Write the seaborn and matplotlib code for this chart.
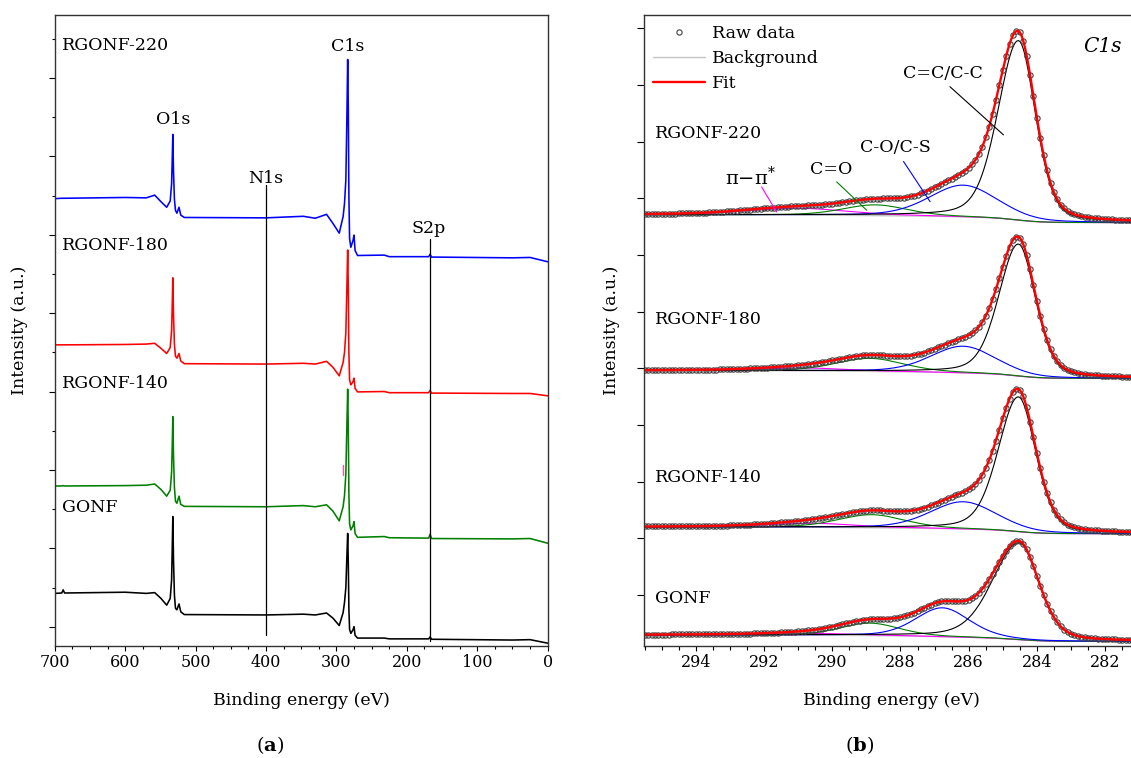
import numpy as np
import matplotlib
matplotlib.use("Agg")
import matplotlib.pyplot as plt
from matplotlib.lines import Line2D
from matplotlib.ticker import MultipleLocator, NullFormatter
import seaborn as sns

# ---------------- survey spectra (a) ----------------
survey_energy = [700, 690, 688, 686, 600, 570, 558, 549, 541, 536, 534, 533, 532.3,
                 531.3, 530, 528.5, 526.5, 523.5, 521, 516, 400, 347, 330, 314, 305,
                 296, 290.5, 288.5, 286.6, 285.2, 284.0, 283.1, 282.3, 281.3, 279.5, 276.5,
                 275, 273.5, 270, 232, 225, 169, 167, 165, 50, 25, 0]
survey_rgonf220 = [10.92, 10.93, 10.93, 10.93, 10.95, 10.94, 11.01, 10.84, 10.70, 10.86,
                   11.30, 12.00, 12.56, 11.60, 10.90, 10.62, 10.55, 10.70, 10.50, 10.44,
                   10.43, 10.47, 10.42, 10.52, 10.29, 10.04, 10.46, 10.80, 11.40, 12.90,
                   14.47, 13.20, 11.00, 9.90, 9.68, 9.85, 9.99, 9.60, 9.47, 9.48, 9.44,
                   9.44, 9.50, 9.43, 9.41, 9.42, 9.31]
survey_rgonf180 = [7.19, 7.19, 7.19, 7.19, 7.20, 7.21, 7.23, 7.10, 6.97, 7.12, 7.55, 8.30,
                   8.90, 7.95, 7.20, 6.90, 6.85, 6.97, 6.78, 6.71, 6.70, 6.72, 6.70, 6.77,
                   6.62, 6.40, 6.74, 7.00, 7.50, 8.60, 9.61, 8.60, 7.00, 6.30, 6.17, 6.25,
                   6.34, 6.08, 5.99, 6.00, 5.97, 5.97, 6.03, 5.96, 5.95, 5.95, 5.89]
survey_rgonf140 = [3.59, 3.59, 3.60, 3.59, 3.60, 3.61, 3.64, 3.50, 3.33, 3.48, 3.95, 4.70,
                   5.36, 4.35, 3.55, 3.20, 3.15, 3.33, 3.12, 3.07, 3.06, 3.09, 3.06, 3.11,
                   2.95, 2.70, 3.06, 3.35, 3.90, 5.10, 6.06, 5.00, 3.40, 2.62, 2.47, 2.57,
                   2.68, 2.38, 2.28, 2.30, 2.27, 2.26, 2.36, 2.25, 2.24, 2.25, 2.13]
survey_gonf = [0.85, 0.86, 0.94, 0.86, 0.88, 0.85, 0.87, 0.72, 0.55, 0.72, 1.20, 2.10,
               2.81, 1.70, 0.80, 0.47, 0.43, 0.58, 0.38, 0.31, 0.30, 0.32, 0.30, 0.35,
               0.22, 0.03, 0.36, 0.62, 1.00, 1.75, 2.38, 1.60, 0.45, -0.07, -0.17, -0.08,
               0.00, -0.22, -0.29, -0.29, -0.31, -0.31, -0.26, -0.32, -0.34, -0.33, -0.42]
survey_names = ["RGONF-220", "RGONF-180", "RGONF-140", "GONF"]
survey_colors = ["#0000ff", "#ff0000", "#008000", "#000000"]

# ---------------- C1s peak fitting parameters (b) ----------------
c1s_samples = ["RGONF-220", "RGONF-180", "RGONF-140", "GONF"]
cc_center = [284.54, 284.54, 284.54, 284.52]      # C=C/C-C
cc_height = [3.17, 2.33, 2.38, 1.71]
cc_hwhm_high = [0.71, 0.68, 0.70, 0.92]
cc_hwhm_low = [0.59, 0.59, 0.60, 0.68]
co_center = [286.16, 286.16, 286.16, 286.77]      # C-O/C-S
co_height = [0.56, 0.47, 0.48, 0.51]
co_fwhm = [2.35, 2.25, 2.30, 1.86]
cdo_center = [288.74, 288.89, 288.84, 288.89]     # C=O
cdo_height = [0.19, 0.23, 0.23, 0.22]
cdo_fwhm = [2.25, 2.35, 2.30, 2.05]
pi_center = [291.0, 290.8, 290.6, 290.5]          # pi-pi*
pi_height = [0.12, 0.05, 0.07, 0.03]
pi_fwhm = [3.5, 3.0, 3.0, 3.0]
bg_high = [6.71, 3.96, 1.20, -0.706]              # Shirley background end levels
bg_low = [6.57, 3.82, 1.08, -0.82]

# ---------------- style ----------------
sns.set_theme(style="ticks")
plt.rcParams["font.family"] = ["DejaVu Serif"]
plt.rcParams["mathtext.fontset"] = "dejavuserif"
plt.rcParams["text.color"] = "black"
plt.rcParams["axes.labelcolor"] = "black"
plt.rcParams["axes.edgecolor"] = "#333333"
plt.rcParams["axes.linewidth"] = 1.0
plt.rcParams["xtick.color"] = "black"
plt.rcParams["ytick.color"] = "black"
plt.rcParams["xtick.labelcolor"] = "black"
FS = 12.5
TFS = 11.5

fig = plt.figure(figsize=(11.31, 7.58), dpi=100)
W, H = 1131.0, 758.0
axL = fig.add_axes([54.7 / W, 112 / H, 493 / W, 631 / H])
axR = fig.add_axes([644 / W, 112 / H, 487 / W, 631 / H])

# ---------------- panel (a) ----------------
for vals, col in zip([survey_gonf, survey_rgonf140, survey_rgonf180, survey_rgonf220],
                     survey_colors[::-1]):
    sns.lineplot(x=survey_energy, y=vals, ax=axL, color=col, lw=1.15, sort=False,
                 estimator=None, errorbar=None, legend=False)

axL.set_xlim(700, 0)
axL.set_ylim(-0.492, 15.605)
axL.xaxis.set_major_locator(MultipleLocator(100))
axL.xaxis.set_minor_locator(MultipleLocator(25))
axL.set_yticks(np.arange(0, 15, 2))
axL.set_yticks(np.arange(1, 16, 2), minor=True)
axL.yaxis.set_major_formatter(NullFormatter())
axL.tick_params(axis="both", which="both", direction="out", top=False, right=False,
                width=0.8, labelsize=TFS, pad=2.5)
axL.tick_params(axis="y", which="major", length=4.5)
axL.tick_params(axis="y", which="minor", length=2.5)
axL.tick_params(axis="x", which="major", length=3.5)
axL.tick_params(axis="x", which="minor", length=2.5)
axL.set_xlabel("")
axL.set_ylabel("")

# peak markers
axL.plot([400, 400], [11.26, -0.21], color="black", lw=0.9)
axL.plot([167, 167], [9.88, -0.36], color="black", lw=0.9)
axL.plot([290.7, 290.7], [4.12, 3.87], color="#ff4fa8", lw=1.0)

for name, base in zip(survey_names, [14.71, 9.61, 6.08, 2.93]):
    axL.text(689.4, base, name, ha="left", va="baseline", fontsize=FS)
axL.text(556.0, 12.82, "O1s", ha="left", va="baseline", fontsize=FS)
axL.text(307.6, 14.69, "C1s", ha="left", va="baseline", fontsize=FS)
axL.text(424.7, 11.33, "N1s", ha="left", va="baseline", fontsize=FS)
axL.text(193.0, 10.04, "S2p", ha="left", va="baseline", fontsize=FS)

# ---------------- panel (b) ----------------
def pseudo_voigt(e, center, hw_high, hw_low, eta=0.3):
    hw = np.where(e >= center, hw_high, hw_low)
    x = (e - center) / hw
    return (1 - eta) * np.exp(-np.log(2) * x ** 2) + eta / (1 + x ** 2)


energy = np.round(np.arange(281.2, 295.56, 0.05), 3)
for i in range(len(c1s_samples)):
    cc = cc_height[i] * pseudo_voigt(energy, cc_center[i], cc_hwhm_high[i], cc_hwhm_low[i])
    co = co_height[i] * pseudo_voigt(energy, co_center[i], co_fwhm[i] / 2, co_fwhm[i] / 2)
    cdo = cdo_height[i] * pseudo_voigt(energy, cdo_center[i], cdo_fwhm[i] / 2, cdo_fwhm[i] / 2)
    pp = pi_height[i] * pseudo_voigt(energy, pi_center[i], pi_fwhm[i] / 2, pi_fwhm[i] / 2)
    peaks = cc + co + cdo + pp
    cum = np.concatenate([[0.0], np.cumsum(0.5 * (peaks[1:] + peaks[:-1]) * np.diff(energy))])
    bg = bg_low[i] + (bg_high[i] - bg_low[i]) * cum / cum[-1]
    fit = bg + peaks

    sns.lineplot(x=energy, y=bg, ax=axR, color="#c4c4c4", lw=1.0, estimator=None,
                 errorbar=None, legend=False)
    for comp, col in [(pp, "#ff00ff"), (cdo, "#008000"), (co, "#0000ff"), (cc, "#000000")]:
        sns.lineplot(x=energy, y=bg + comp, ax=axR, color=col, lw=0.8, estimator=None,
                     errorbar=None, legend=False)
    sns.lineplot(x=energy[::2], y=fit[::2], ax=axR, marker="o", linestyle="",
                 markersize=3.8, markerfacecolor="none", markeredgecolor="#404040",
                 markeredgewidth=0.8, estimator=None, errorbar=None, legend=False)
    sns.lineplot(x=energy, y=fit, ax=axR, color="#ff0000", lw=1.7, estimator=None,
                 errorbar=None, legend=False)

axR.set_xlim(295.52, 281.24)
axR.set_ylim(-0.90, 10.235)
axR.xaxis.set_major_locator(MultipleLocator(2))
axR.xaxis.set_minor_locator(MultipleLocator(0.5))
axR.set_yticks(np.arange(0, 11, 1))
axR.yaxis.set_major_formatter(NullFormatter())
axR.spines["right"].set_visible(False)
axR.tick_params(axis="both", which="both", direction="out", top=False, right=False,
                width=0.8, labelsize=TFS, pad=2.5)
axR.tick_params(axis="y", which="major", length=5)
axR.tick_params(axis="x", which="major", length=3.5)
axR.tick_params(axis="x", which="minor", length=3.0)
axR.set_xlabel("")
axR.set_ylabel("")

for name, base in zip(c1s_samples, [8.06, 4.79, 2.00, -0.136]):
    axR.text(295.2, base, name, ha="left", va="baseline", fontsize=FS)

axR.text(287.92, 9.12, "C=C/C-C", ha="left", va="baseline", fontsize=FS)
axR.plot([286.55, 284.98], [8.97, 8.12], color="black", lw=0.8)
axR.text(289.18, 7.81, "C-O/C-S", ha="left", va="baseline", fontsize=FS)
axR.plot([287.91, 287.13], [7.65, 6.94], color="#0000ff", lw=0.8)
axR.text(290.65, 7.43, "C=O", ha="left", va="baseline", fontsize=FS)
axR.plot([289.87, 288.99], [7.29, 6.79], color="#008000", lw=0.8)
axR.text(293.14, 7.23, "π−π$^{*}$", ha="left", va="baseline", fontsize=14)
axR.plot([292.07, 291.63], [7.20, 6.76], color="#ff00ff", lw=0.8)
axR.text(282.64, 9.59, "C1s", ha="left", va="baseline", fontsize=14.5, style="italic")

handles = [
    Line2D([], [], ls="", marker="o", markersize=3.8, markerfacecolor="none",
           markeredgecolor="#404040", markeredgewidth=0.8),
    Line2D([], [], color="#c4c4c4", lw=1.0),
    Line2D([], [], color="#ff0000", lw=1.7),
]
axR.legend(handles, ["Raw data", "Background", "Fit"], loc="upper left",
           bbox_to_anchor=(0.0185, 0.984), frameon=False, fontsize=FS,
           handlelength=2.99, handletextpad=0.385, labelspacing=0.47,
           borderpad=0.0, borderaxespad=0.0)

# ---------------- axis titles and panel tags ----------------
fig.text(19.5 / W, 1 - 330.5 / H, "Intensity (a.u.)", rotation=90, ha="center",
         va="center", fontsize=FS)
fig.text(611 / W, 1 - 330.5 / H, "Intensity (a.u.)", rotation=90, ha="center",
         va="center", fontsize=FS)
fig.text(301 / W, 1 - 700.5 / H, "Binding energy (eV)", ha="center", va="center",
         fontsize=FS)
fig.text(891 / W, 1 - 700.5 / H, "Binding energy (eV)", ha="center", va="center",
         fontsize=FS)
fig.text(270 / W, 1 - 745 / H, r"($\mathbf{a}$)", ha="center", va="center", fontsize=14)
fig.text(860 / W, 1 - 745 / H, r"($\mathbf{b}$)", ha="center", va="center", fontsize=14)

fig.savefig("out.png", dpi=100)
